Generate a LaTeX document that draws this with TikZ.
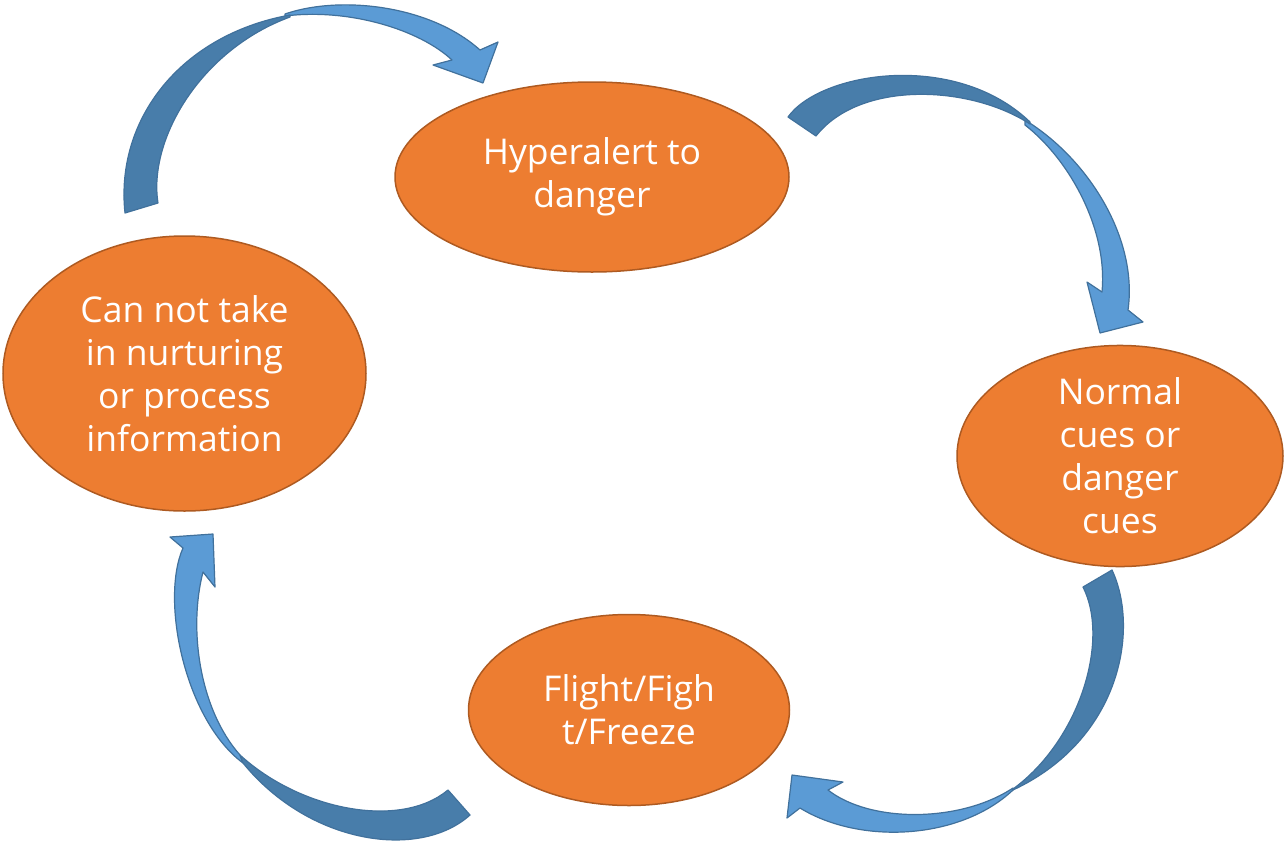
\documentclass[tikz,border=0pt]{standalone}
\usepackage{fontspec}
\setmainfont{Open Sans}
\usepackage{tikz}
\usetikzlibrary{shapes.geometric}
\definecolor{stateorange}{HTML}{ED7D31}
\definecolor{stateedge}{HTML}{AE5A21}
\definecolor{arrowlight}{HTML}{5B9BD5}
\definecolor{arrowdark}{HTML}{487DAA}
\definecolor{arrowedge}{HTML}{41719C}

\begin{document}
\begin{tikzpicture}[x=10pt,y=10pt]
	\tikzstyle{every node}+=[inner sep=0pt]
	\tikzstyle{state}=[ellipse, draw=stateedge, line width=1.5pt, fill=stateorange, text=white, align=center, font=\fontsize{35.5}{43}\selectfont]
	\tikzstyle{bandlight}=[fill=arrowlight, draw=arrowedge, line width=1.2pt, line join=round]
	\tikzstyle{banddark}=[fill=arrowdark, draw=arrowedge, line width=1.2pt, line join=round]
	\useasboundingbox (0,0) rectangle (128.6,-84.7);
	\node [state, minimum width=394pt, minimum height=190pt] (hyper) at (59.2,-17.7) {Hyperalert to\\danger};
	\node [state, minimum width=326pt, minimum height=192pt] (cues) at (112.0,-45.6) {Normal\\cues or\\danger\\cues};
	\node [state, minimum width=321pt, minimum height=191pt] (flight) at (62.9,-71.0) {Flight/Figh\\t/Freeze};
	\node [state, minimum width=363pt, minimum height=275pt] (nurture) at (18.45,-37.35) {Can not take\\in nurturing\\or process\\information};
	% nurture -> hyper
	\filldraw [bandlight] (28.5,-1.4) .. controls (34.0,0.5) and (43.0,-0.5) .. (48.0,-5.0) -- (49.8,-4.2) -- (48.3,-8.3) -- (43.3,-6.5) -- (45.2,-6.0) .. controls (42.0,-3.0) and (35.0,-0.8) .. (28.5,-1.6) -- cycle;
	\filldraw [banddark] (12.5,-21.3) .. controls (11.5,-12.0) and (18.0,-3.5) .. (29.0,-1.5) -- (29.0,-1.7) .. controls (20.0,-5.0) and (14.8,-14.0) .. (15.8,-20.3) -- cycle;
	% hyper -> cues
	\filldraw [bandlight] (102.5,-12.0) .. controls (109.0,-16.0) and (113.8,-24.0) .. (112.8,-31.0) -- (114.3,-32.2) -- (110.0,-33.3) -- (108.7,-28.2) -- (110.2,-29.2) .. controls (110.8,-23.0) and (107.0,-16.0) .. (102.5,-12.5) -- cycle;
	\filldraw [banddark] (78.8,-11.7) .. controls (82.0,-7.2) and (95.5,-5.0) .. (103.0,-12.2) -- (103.0,-12.4) .. controls (97.0,-8.5) and (86.0,-8.0) .. (81.6,-13.6) -- cycle;
	% cues -> flight
	\filldraw [bandlight] (101.3,-79.0) .. controls (96.0,-84.0) and (86.0,-84.5) .. (80.0,-80.8) -- (78.7,-81.8) -- (79.2,-77.5) -- (84.3,-78.2) -- (82.8,-79.0) .. controls (87.0,-82.3) and (96.0,-82.3) .. (101.3,-78.8) -- cycle;
	\filldraw [banddark] (111.2,-57.0) .. controls (114.0,-63.0) and (112.0,-74.0) .. (101.3,-79.0) -- (101.3,-78.9) .. controls (108.0,-74.0) and (111.0,-64.0) .. (108.3,-58.7) -- cycle;
	% flight -> nurture
	\filldraw [bandlight] (24.3,-76.3) .. controls (18.5,-72.0) and (16.0,-60.0) .. (18.3,-54.8) -- (17.0,-53.7) -- (21.3,-53.4) -- (21.5,-58.7) -- (20.3,-57.2) .. controls (18.8,-63.0) and (20.0,-71.0) .. (24.0,-75.5) -- cycle;
	\filldraw [banddark] (47.0,-81.5) .. controls (42.0,-86.0) and (31.0,-84.5) .. (24.3,-76.3) -- (24.0,-75.5) .. controls (30.0,-81.0) and (40.0,-83.0) .. (44.8,-79.0) -- cycle;
\end{tikzpicture}
\end{document}
